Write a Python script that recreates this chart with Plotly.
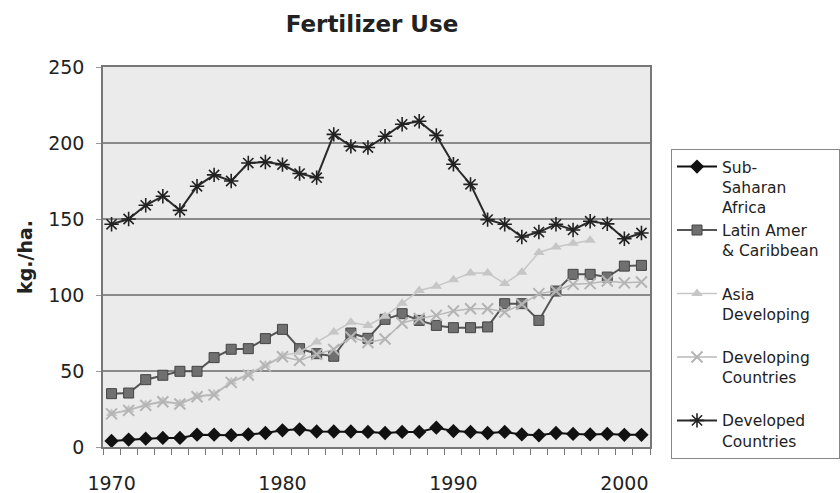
import plotly.graph_objects as go

years = list(range(1970, 2002))

sub_saharan = [4.0, 4.9, 5.5, 6.0, 6.0, 8.1, 8.1, 7.8, 8.3, 9.2, 11.0, 11.6, 10.2, 10.2, 10.2, 9.9,
               9.2, 9.9, 9.9, 12.7, 10.5, 9.9, 9.2, 9.9, 8.3, 7.7, 9.2, 8.6, 8.3, 8.6, 8.0, 8.0]
latin_amer = [35.1, 35.5, 44.3, 47.2, 49.8, 49.8, 58.8, 64.3, 64.7, 71.3, 77.4, 64.7, 61.4, 59.7, 75.0, 71.5,
              84.0, 87.7, 83.3, 80.0, 78.5, 78.5, 79.0, 94.3, 94.3, 83.3, 102.6, 113.6, 113.6, 111.8, 119.0, 119.5]
asia_dev = [22.0, 24.5, 27.8, 30.2, 28.7, 33.5, 34.8, 43.0, 48.0, 54.0, 60.0, 62.5, 69.0, 75.7, 82.0, 80.0,
            86.0, 94.5, 103.0, 105.7, 110.0, 114.5, 114.5, 107.5, 115.0, 128.0, 131.6, 134.0, 136.0, None, None, None]
developing = [21.8, 24.1, 27.4, 29.8, 28.3, 33.1, 34.3, 42.5, 47.4, 53.2, 59.4, 57.0, 61.0, 64.2, 72.4, 68.7,
              71.0, 81.6, 84.5, 86.6, 89.5, 91.0, 91.0, 88.8, 93.9, 100.9, 102.6, 107.0, 107.5, 109.2, 108.0, 108.5]
developed = [146.5, 150.0, 159.0, 165.0, 155.7, 171.5, 179.0, 175.0, 186.8, 187.5, 185.8, 179.9, 177.2, 205.7, 197.8, 197.0,
             204.4, 212.3, 214.3, 205.0, 186.0, 172.8, 149.6, 146.5, 138.2, 141.4, 146.5, 142.8, 148.5, 146.8, 137.0, 140.8]

NB = "\u00a0"
series_names = ["Sub-<br>Saharan<br>Africa",
                "Latin Amer<br>& Caribbean" + NB * 3 + "<br>" + NB,
                "Asia<br>Developing<br>" + NB,
                "Developing<br>Countries<br>" + NB,
                "Developed<br>Countries"]

x_tick_years = [1970, 1980, 1990, 2000]
y_ticks = [0, 50, 100, 150, 200, 250]

FONT = "DejaVu Sans"
TXT = "#222222"

ML, MR, MT, MB = 103, 190, 67, 46
W, H = 840, 493
PW = W - ML - MR
PH = H - MT - MB

fig = go.Figure()

fig.add_trace(go.Scatter(
    x=years, y=sub_saharan, name=series_names[0], mode="lines+markers",
    line=dict(color="#111111", width=2),
    marker=dict(symbol="diamond", size=11, color="#111111")))

fig.add_trace(go.Scatter(
    x=years, y=latin_amer, name=series_names[1], mode="lines+markers",
    line=dict(color="#555555", width=2),
    marker=dict(symbol="square", size=10, color="#707070", line=dict(color="#444444", width=1))))

fig.add_trace(go.Scatter(
    x=years, y=asia_dev, name=series_names[2], mode="lines+markers",
    line=dict(color="#c6c6c6", width=1.5),
    marker=dict(symbol="triangle-up", size=10, color="#c6c6c6")))

fig.add_trace(go.Scatter(
    x=years, y=developing, name=series_names[3], mode="lines+markers",
    line=dict(color="#b8b8b8", width=1.5),
    marker=dict(symbol="x-thin-open", size=11, color="#b4b4b4", line=dict(color="#b4b4b4", width=2))))

fig.add_trace(go.Scatter(
    x=years, y=developed, name=series_names[4], mode="lines+markers",
    line=dict(color="#2a2a2a", width=2),
    marker=dict(symbol="asterisk-open", size=12, color="#222222", line=dict(color="#222222", width=1.6))))

fig.update_layout(
    width=W, height=H,
    margin=dict(l=ML, r=MR, t=MT, b=MB, autoexpand=False),
    paper_bgcolor="white",
    plot_bgcolor="#ebebeb",
    font=dict(family=FONT, size=19, color=TXT),
    title=dict(text="<b>Fertilizer Use</b>", font=dict(family=FONT, size=23, color=TXT),
               xref="container", x=372 / W, xanchor="center",
               yref="container", y=1 - 24 / H, yanchor="middle"),
    showlegend=True,
    legend=dict(
        xref="paper", yref="paper",
        x=(671 - ML) / PW, y=(H - MB - 149) / PH, xanchor="left", yanchor="top",
        bgcolor="white", bordercolor="#888888", borderwidth=1,
        font=dict(family=FONT, size=15.5, color=TXT),
        valign="top", itemwidth=40, tracegroupgap=0, maxheight=420,
        traceorder="normal"),
    xaxis=dict(
        range=[1969.5, 2001.5], tickmode="array", tickvals=x_tick_years,
        ticktext=[str(v) for v in x_tick_years], ticks="", showgrid=False,
        showline=True, linecolor="#777777", linewidth=1.5, mirror=True, zeroline=False,
        ticklabelstandoff=18, automargin=False,
        minor=dict(tickmode="linear", tick0=1969.5, dtick=1, ticks="outside", ticklen=6,
                   tickcolor="#777777", tickwidth=1, showgrid=False),
        tickfont=dict(family=FONT, size=19, color=TXT)),
    yaxis=dict(
        range=[0, 250], tickmode="array", tickvals=y_ticks, ticks="outside", ticklen=5,
        tickcolor="#999999", showgrid=True, gridcolor="#8a8a8a", gridwidth=1.5,
        showline=True, linecolor="#777777", linewidth=1.5, mirror=True, zeroline=False,
        ticklabelstandoff=8, automargin=False,
        tickfont=dict(family=FONT, size=19, color=TXT)),
    annotations=[dict(text="<b>kg./ha.</b>", textangle=-90, showarrow=False,
                      xref="paper", x=0, xanchor="center", xshift=25 - ML,
                      yref="paper", y=0.5, yanchor="middle",
                      font=dict(family=FONT, size=19, color=TXT))],
)

fig.write_html("out.html", config={"displayModeBar": False},
               post_script="document.body.style.margin='0';")
